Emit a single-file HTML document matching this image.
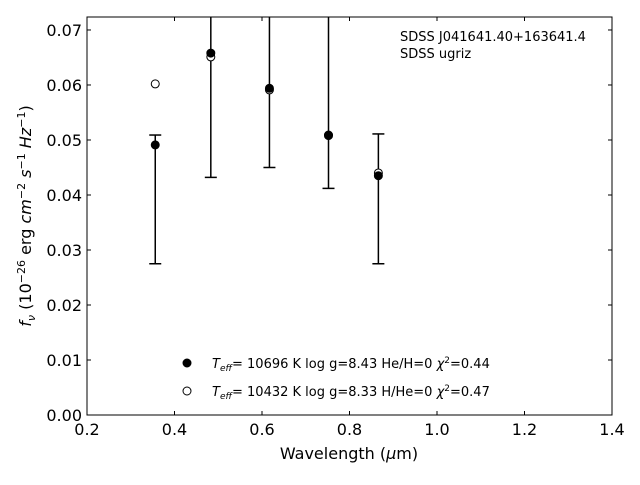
<!DOCTYPE html>
<html><head><meta charset="utf-8"><style>body{margin:0;background:#fff}svg{font-family:"DejaVu Sans","Liberation Sans",sans-serif}</style></head>
<body>
<svg id="c" width="640" height="480"></svg>
<script>
const wavelengths=[0.356,0.483,0.617,0.752,0.866];
const fluxObs=[0.0491,0.0658,0.0594,0.0509,0.0435];
const errLow=[0.0275,0.0432,0.0450,0.0412,0.0275];
const errHigh=[0.0509,0.08,0.08,0.08,0.0511];
const fluxModel=[0.0602,0.0651,0.0591,0.0508,0.0440];
const xTicks=[0.2,0.4,0.6,0.8,1.0,1.2,1.4];
const yTicks=[0,0.01,0.02,0.03,0.04,0.05,0.06,0.07];
const L=87,R=612,T=17,B=415,x0=0.2,x1=1.4,y1=0.07236;
const X=v=>L+(v-x0)/(x1-x0)*(R-L), Y=v=>B-v/y1*(B-T);
const s=document.getElementById('c'),NS='http://www.w3.org/2000/svg';
function mk(t,a,p,txt){const e=document.createElementNS(NS,t);for(const k in a)e.setAttribute(k,a[k]);if(txt!==undefined)e.innerHTML=txt;(p||s).appendChild(e);return e;}
const clip=mk('clipPath',{id:'cp'});mk('rect',{x:L,y:T,width:R-L,height:B-T},clip);
const g=mk('g',{'clip-path':'url(#cp)'});
wavelengths.forEach((w,i)=>{
 const eb=mk('g',{},g);
 
 mk('line',{x1:X(w),x2:X(w),y1:Y(errLow[i]),y2:Y(errHigh[i]),stroke:'#000','stroke-width':1.5},eb);
 [errLow[i],errHigh[i]].forEach(v=>mk('line',{x1:X(w)-6,x2:X(w)+6,y1:Y(v),y2:Y(v),stroke:'#000','stroke-width':1.5},eb));
 const o=mk('circle',{cx:X(w),cy:Y(fluxModel[i]),r:4,fill:'#fff',stroke:'#000'},g);
 
 const f=mk('circle',{cx:X(w),cy:Y(fluxObs[i]),r:4,fill:'#000',stroke:'#000'},g);
 
});
mk('rect',{x:L,y:T,width:R-L,height:B-T,fill:'none',stroke:'#000','stroke-width':1,});
xTicks.forEach(v=>{const x=X(v);mk('line',{x1:x,x2:x,y1:B,y2:B-4,stroke:'#000'});mk('line',{x1:x,x2:x,y1:T,y2:T+4,stroke:'#000'});
 const t=mk('text',{x:x,y:B+20,'text-anchor':'middle','font-size':16},null,v.toFixed(1));});
yTicks.forEach(v=>{const y=Y(v);mk('line',{x1:L,x2:L+4,y1:y,y2:y,stroke:'#000'});mk('line',{x1:R,x2:R-4,y1:y,y2:y,stroke:'#000'});
 const t=mk('text',{x:L-5,y:y+6,'text-anchor':'end','font-size':16},null,v.toFixed(2));});
</script>
<svg width="640" height="480" style="position:absolute;left:0;top:0">
<text x="349" y="459" text-anchor="middle" font-size="16">Wavelength (<tspan font-style="italic">μ</tspan>m)</text>
<text transform="translate(31,216) rotate(-90)" text-anchor="middle" font-size="16"><tspan font-style="italic">f</tspan><tspan font-style="italic" font-size="11" dy="4">ν</tspan><tspan dy="-4"> (10</tspan><tspan font-size="11" dy="-6">−26</tspan><tspan dy="6"> erg </tspan><tspan font-style="italic">cm</tspan><tspan font-size="11" dy="-6">−2</tspan><tspan dy="6" font-style="italic"> s</tspan><tspan font-size="11" dy="-6">−1</tspan><tspan dy="6" font-style="italic"> Hz</tspan><tspan font-size="11" dy="-6">−1</tspan><tspan dy="6">)</tspan></text>
<text x="400" y="41" font-size="13">SDSS J041641.40+163641.4</text>
<text x="400" y="58" font-size="13">SDSS ugriz</text>
<g>
<circle cx="187" cy="363" r="4" fill="#000" stroke="#000"/>
<text x="212" y="368" font-size="13"><tspan font-style="italic">T</tspan><tspan font-style="italic" font-size="9" dy="3">eff</tspan><tspan dy="-3">= 10696 K  log g=8.43  He/H=0  </tspan><tspan font-style="italic">χ</tspan><tspan font-size="9" dy="-5">2</tspan><tspan dy="5">=0.44</tspan></text>
<circle cx="187" cy="391" r="4" fill="#fff" stroke="#000"/>
<text x="212" y="396" font-size="13"><tspan font-style="italic">T</tspan><tspan font-style="italic" font-size="9" dy="3">eff</tspan><tspan dy="-3">= 10432 K  log g=8.33  H/He=0  </tspan><tspan font-style="italic">χ</tspan><tspan font-size="9" dy="-5">2</tspan><tspan dy="5">=0.47</tspan></text>
</g>
</svg>
</body></html>
